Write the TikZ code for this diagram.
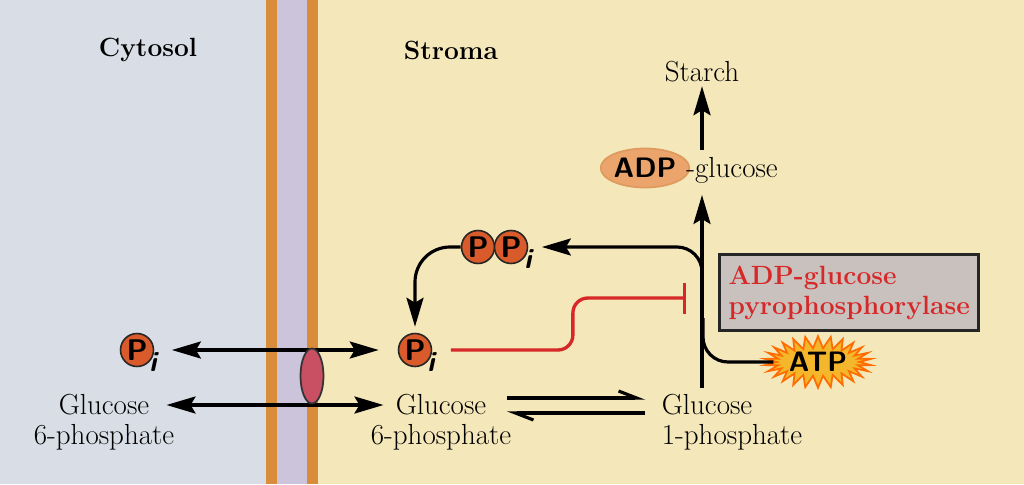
\documentclass[tikz,border=0pt]{standalone}
\usepackage{xcolor}
\usepackage{tikz}
\usetikzlibrary{shapes.geometric, shapes.symbols, arrows.meta}
\definecolor{cytbg}{HTML}{D9DDE6}
\definecolor{strbg}{HTML}{F4E7B9}
\definecolor{memorange}{HTML}{D98C3A}
\definecolor{mempurple}{HTML}{CCC4DB}
\definecolor{phosred}{HTML}{D95A2B}
\definecolor{enzred}{HTML}{D62828}
\definecolor{enzgray}{HTML}{C9C1BD}
\definecolor{adpfill}{HTML}{EBA56C}
\definecolor{carrierred}{HTML}{C94F62}
\definecolor{atpyellow}{HTML}{F4B72C}
\tikzstyle{compname} = [font=\fontsize{15}{18}\selectfont\bfseries]
\tikzstyle{metab} = [font=\fontsize{16.5}{19}\selectfont, inner sep=2pt]
\tikzstyle{phos} = [circle, draw=black!85, line width=0.9pt, fill=phosred, minimum size=0.66cm, inner sep=0pt, font=\fontsize{17}{17}\selectfont\sffamily\bfseries]
\tikzstyle{sub} = [inner sep=0pt, font=\fontsize{16}{16}\selectfont\sffamily\bfseries\itshape]
\tikzstyle{arrow} = [line width=1.8pt, -{Stealth[length=0.58cm,width=0.34cm,inset=0.1cm]}]
\tikzstyle{dblarrow} = [line width=1.8pt, {Stealth[length=0.58cm,width=0.34cm,inset=0.1cm]}-{Stealth[length=0.58cm,width=0.34cm,inset=0.1cm]}]
\tikzstyle{plainline} = [line width=1.8pt]
\tikzstyle{harpoon} = [line width=1.8pt, -{Straight Barb[left,length=0.36cm,width=0.28cm]}]
\tikzstyle{inhibit} = [line width=1.9pt, draw=enzred, -{Bar[width=0.62cm,line width=1.9pt]}]

\begin{document}
\begin{tikzpicture}[x=0.02cm, y=-0.02cm, node distance=0.64cm]
        % compartments and membrane
        \fill[cytbg] (0,0) rectangle (266,484);
        \fill[memorange] (266,0) rectangle (277,484);
        \fill[mempurple] (277,0) rectangle (307,484);
        \fill[memorange] (307,0) rectangle (318,484);
        \fill[strbg] (318,0) rectangle (1024,484);

        \node (cyto) [compname] at (148,50) {Cytosol};
        \node (stroma) [compname] at (451,50) {Stroma};
        \node (starch) [metab] at (702,72) {Starch};

        \node (adp) [ellipse, fill=adpfill, draw=adpfill!70!brown, line width=1pt, minimum width=1.52cm, minimum height=0.78cm, inner sep=0pt, font=\fontsize{16}{16}\selectfont\sffamily\bfseries] at (645,168) {ADP};
        \node (adpglc) [metab, anchor=west, inner sep=0pt] at (686,170) {-glucose};

        \node (pp1) [phos] at (478,247) {P};
        \node (pp2) [phos] at (511,247) {P};
        \node (ppsub) [sub, anchor=west] at (524,259) {i};

        \node (enzyme) [draw=black!85, line width=1.8pt, fill=enzgray, text=enzred, align=left, font=\fontsize{15}{17}\selectfont\bfseries, inner xsep=0.18cm, minimum height=1.52cm, anchor=north west] at (718,253) {ADP-glucose\\pyrophosphorylase};
        \node (atp) [starburst, starburst points=26, starburst point height=0.24cm, random starburst=0, fill=atpyellow, draw=orange!85!red, line width=1pt, minimum width=1.76cm, minimum height=0.96cm, inner sep=0pt, font=\fontsize{16}{16}\selectfont\sffamily\bfseries] at (818,362) {ATP};

        \node (pic) [phos] at (137,350) {P};
        \node (picsub) [sub, anchor=west] at (149,362) {i};
        \node (pis) [phos] at (415,350) {P};
        \node (pissub) [sub, anchor=west] at (427,362) {i};

        \node (cglc) [metab] at (104,405) {Glucose};
        \node (cphos) [metab, below of=cglc] {6-phosphate};
        \node (sglc) [metab] at (441,405) {Glucose};
        \node (sphos) [metab, below of=sglc] {6-phosphate};
        \node (gglc) [metab, anchor=west] at (658,405) {Glucose};
        \node (gphos) [metab, anchor=west] at (658,437) {1-phosphate};

        \coordinate (g1top) at (702,388);
        \coordinate (adpbot) at (702,195);
        \coordinate (adptop) at (702,150);
        \coordinate (ppbranch) at (702,300);
        \coordinate (atpjoin) at (703,318);
        \coordinate (block) at (686,298);

        \draw [arrow] (g1top) -- (adpbot);
        \draw [arrow] (adptop) -- (adptop |- starch.south);
        \draw [arrow, rounded corners=0.5cm] (ppbranch) |- ([xshift=0.2cm]ppsub.east |- pp2);
        \draw [arrow, rounded corners=0.7cm, shorten >=0.12cm] (pp1.west) -| (pis.north);
        \draw [plainline, rounded corners=0.5cm] (atp.west) -| (atpjoin);
        \draw [inhibit, rounded corners=0.3cm, shorten <=0.32cm] (pissub.east |- pis) -- ++(138,0) |- (block);

        \draw [dblarrow] ([xshift=0.3cm]picsub.east |- pic) -- ([xshift=-0.38cm]pis.west);
        \draw [dblarrow, shorten <=0.27cm, shorten >=0.17cm] (cglc.east) -- (sglc.west);
        \draw [harpoon, shorten <=0.34cm, shorten >=0.26cm] ([yshift=0.14cm]sglc.east) -- ([yshift=0.14cm]gglc.west);
        \draw [harpoon, shorten <=0.26cm, shorten >=0.34cm] ([yshift=-0.16cm]gglc.west) -- ([yshift=-0.16cm]sglc.east);

        \node (carrier) [ellipse, draw=black!80, fill=carrierred, line width=1pt, minimum width=0.46cm, minimum height=1.1cm] at (312,376) {};
    \end{tikzpicture}
\end{document}
